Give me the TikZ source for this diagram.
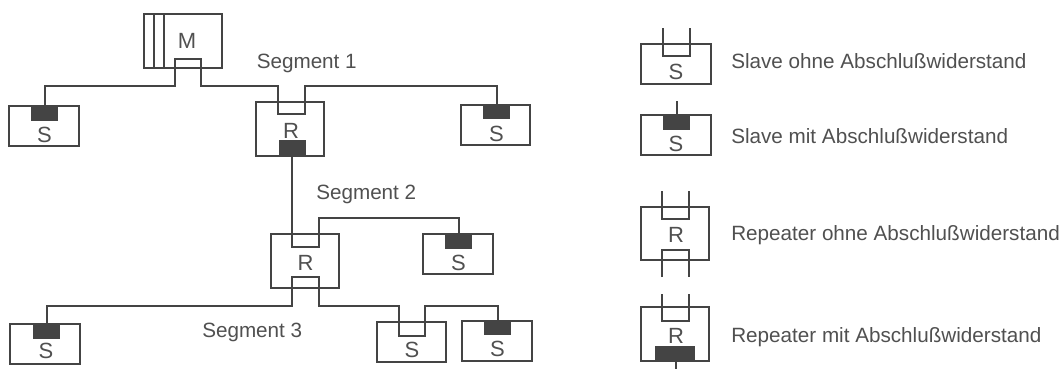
\documentclass[tikz,border=0pt]{standalone}
\usepackage{fontspec}
\setmainfont{Liberation Sans}
\definecolor{ink}{HTML}{444444}
\definecolor{txt}{HTML}{505050}
\tikzset{
  wire/.style={draw=ink,line width=1.5pt,line join=miter},
  devbox/.style={draw=ink,line width=1.5pt,fill=none,inner sep=0pt,outer sep=0pt,rectangle},
  termblock/.style={fill=ink,draw=none,inner sep=0pt,outer sep=0pt,rectangle,minimum width=20.25pt,minimum height=11.25pt},
  slavebox/.style={devbox,minimum width=52pt,minimum height=30pt},
  repbox/.style={devbox,minimum width=51pt,minimum height=40pt},
  devtext/.style={text=txt,font=\fontsize{16.5pt}{18pt}\selectfont,inner sep=0pt,anchor=base},
  captext/.style={text=txt,font=\fontsize{15.5pt}{18pt}\selectfont,inner sep=0pt,anchor=base west}
}
\begin{document}
\begin{tikzpicture}[x=0.75pt,y=-0.75pt]
\useasboundingbox (0,0) rectangle (1064,369);
% master
\node[devbox,minimum width=58.5pt,minimum height=40.5pt] (m) at (183,41) {};
\node[devtext] (mt) at (187,48) {M};
\coordinate (mi1) at (154,14); \coordinate (mi2) at (164,14);
\draw[wire] (mi1) -- (mi1 |- m.south);
\draw[wire] (mi2) -- (mi2 |- m.south);
% slaves and repeaters
\node[slavebox] (s1) at (44,126) {};
\node[termblock] (s1x) at (44.5,113.5) {};
\node[devtext] (s1t) at (44.5,142) {S};
\node[repbox] (r1) at (290,129) {};
\node[termblock] (r1x) at (292,147) {};
\node[devtext] (r1t) at (291,138) {R};
\node[slavebox] (s2) at (495.5,124.5) {};
\node[termblock] (s2x) at (496.5,111.5) {};
\node[devtext] (s2t) at (496.5,141) {S};
\node[repbox] (r2) at (305,261) {};
\node[devtext] (r2t) at (305.5,270) {R};
\node[slavebox] (s3) at (458,254) {};
\node[termblock] (s3x) at (458.5,241.5) {};
\node[devtext] (s3t) at (458.5,270.5) {S};
\node[slavebox] (s4) at (45,344) {};
\node[termblock] (s4x) at (46.5,331) {};
\node[devtext] (s4t) at (46,358) {S};
\node[slavebox] (s5) at (411.5,341.5) {};
\node[devtext] (s5t) at (412,357) {S};
\node[slavebox] (s6) at (497,340.5) {};
\node[termblock] (s6x) at (497.5,327.5) {};
\node[devtext] (s6t) at (497.5,356) {S};
% ports
\coordinate (y1) at (0,86); \coordinate (y2) at (0,218); \coordinate (y3) at (0,306);
\coordinate (ma) at (175,59); \coordinate (mb) at (201,59);
\coordinate (r1a) at (278,114); \coordinate (r1b) at (305,114);
\coordinate (r2a) at (292,247); \coordinate (r2b) at (319,247);
\coordinate (r2c) at (292,277); \coordinate (r2d) at (319,277);
\coordinate (s5a) at (399,336); \coordinate (s5b) at (425,336);
% segments
\draw[wire] (s1x.north) |- (ma |- y1) -- (ma) -- (mb) -- (mb |- y1) -| (r1a) -- (r1b) |- (s2x.north |- y1) -- (s2x.north);
\draw[wire] (r1x.south) -- (r1x.south |- r2a) -- (r2b) |- (s3x.north |- y2) -- (s3x.north);
\draw[wire] (s4x.north) |- (r2c |- y3) -- (r2c) -- (r2d) -- (r2d |- y3) -| (s5a) -- (s5b) |- (s6x.north |- y3) -- (s6x.north);
% segment labels
\node[captext] (seg1) at (256.5,68) {Segment 1};
\node[captext] (seg2) at (316,199) {Segment 2};
\node[captext] (seg3) at (202,337) {Segment 3};
% legend
\node[slavebox] (l1) at (676,64) {};
\node[devtext] (l1t) at (676,79) {S};
\coordinate (l1a) at (663,28); \coordinate (l1b) at (690,28);
\coordinate (l1c) at (663,56); \coordinate (l1d) at (690,56);
\draw[wire] (l1a) -- (l1c) -- (l1d) -- (l1b);
\node[captext] (l1c2) at (731,68) {Slave ohne Abschlußwiderstand};

\node[slavebox] (l2) at (676,135) {};
\node[termblock] (l2x) at (676.5,122.5) {};
\node[devtext] (l2t) at (676,151) {S};
\coordinate (l2a) at (676.5,101);
\draw[wire] (l2a) -- (l2x.north);
\node[captext] (l2c) at (731,143.5) {Slave mit Abschlußwiderstand};

\node[repbox,minimum height=40pt] (l3) at (675,233.5) {};
\node[devtext] (l3t) at (676,242) {R};
\coordinate (l3a) at (662,191); \coordinate (l3b) at (689,191);
\coordinate (l3c) at (662,219); \coordinate (l3d) at (689,219);
\coordinate (l3e) at (662,250); \coordinate (l3f) at (689,250);
\coordinate (l3g) at (662,277); \coordinate (l3h) at (689,277);
\draw[wire] (l3a) -- (l3c) -- (l3d) -- (l3b);
\draw[wire] (l3g) -- (l3e) -- (l3f) -- (l3h);
\node[captext] (l3c2) at (731,240) {Repeater ohne Abschlußwiderstand};

\node[repbox] (l4) at (675,334) {};
\node[devtext] (l4t) at (676,343) {R};
\coordinate (l4a) at (662,294); \coordinate (l4b) at (689,294);
\coordinate (l4c) at (662,321); \coordinate (l4d) at (689,321);
\draw[wire] (l4a) -- (l4c) -- (l4d) -- (l4b);
\node[termblock,minimum width=30pt] (l4x) at (675,353.5) {};
\coordinate (l4e) at (676,369);
\draw[wire] (l4x.south -| l4e) -- (l4e);
\node[captext] (l4c2) at (731,342) {Repeater mit Abschlußwiderstand};
\end{tikzpicture}
\end{document}
